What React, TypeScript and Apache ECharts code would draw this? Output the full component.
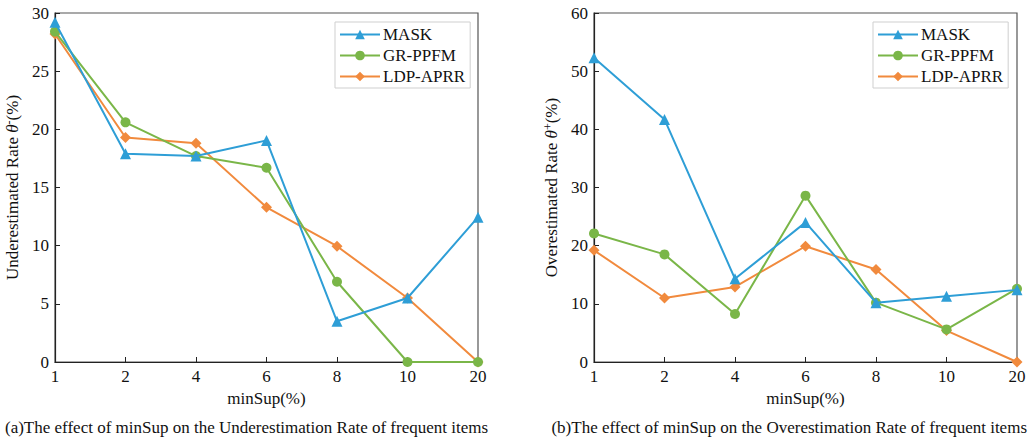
import React, { useEffect, useRef } from "react";
import * as echarts from "echarts";

const categories = ["1", "2", "4", "6", "8", "10", "20"];
const seriesNames = ["MASK", "GR-PPFM", "LDP-APRR"];
const colors = ["#2E9ED6", "#7AB648", "#F18A3D"];
const symbols = ["triangle", "circle", "diamond"];

// (a) Underestimation rate
const underMASK = [29.2, 17.9, 17.7, 19.05, 3.5, 5.5, 12.45];
const underGR = [28.4, 20.6, 17.7, 16.7, 6.9, 0, 0];
const underLDP = [28.2, 19.3, 18.8, 13.3, 9.95, 5.5, 0];

// (b) Overestimation rate
const overMASK = [52.3, 41.7, 14.3, 24.0, 10.2, 11.3, 12.4];
const overGR = [22.1, 18.5, 8.25, 28.6, 10.2, 5.6, 12.6];
const overLDP = [19.2, 11.0, 12.9, 19.9, 15.9, 5.4, 0];

const captionA = "(a)The effect of minSup on the Underestimation Rate of frequent items";
const captionB = "(b)The effect of minSup on the Overestimation Rate of frequent items";

const FONT = "'Liberation Serif', 'Times New Roman', serif";

export default function App() {
  const ref = useRef<HTMLDivElement>(null);
  useEffect(() => {
    if (!ref.current) return;
    const chart = echarts.init(ref.current, null, { renderer: "svg" });
    const grids = [
      { left: 55, top: 13, width: 423, height: 349 },
      { left: 594, top: 13, width: 423, height: 349 },
    ];
    const xAxis = grids.map((_, i) => ({
      type: "category",
      gridIndex: i,
      data: categories,
      boundaryGap: false,
      name: "minSup(%)",
      nameLocation: "middle",
      nameGap: 25,
      nameTextStyle: { fontFamily: FONT, fontSize: 17, color: "#111" },
      axisLine: { lineStyle: { color: "#222", width: 1.2 } },
      axisTick: { inside: true, length: 5, alignWithLabel: true, lineStyle: { color: "#222" } },
      axisLabel: { fontFamily: FONT, fontSize: 17, color: "#111", margin: 6 },
      splitLine: { show: false },
    }));
    const yAxis = [
      {
        type: "value",
        gridIndex: 0,
        min: 0,
        max: 30,
        interval: 5,
        name: "Underestimated Rate {i|θ}{s|-}(%)",
      },
      {
        type: "value",
        gridIndex: 1,
        min: 0,
        max: 60,
        interval: 10,
        name: "Overestimated Rate {i|θ}{s|+}(%)",
      },
    ].map((a) => ({
      ...a,
      nameLocation: "middle",
      nameGap: 33,
      nameTextStyle: {
        fontFamily: FONT,
        fontSize: 17,
        color: "#111",
        rich: {
          i: { fontFamily: FONT, fontSize: 17, fontStyle: "italic", color: "#111" },
          s: { fontFamily: FONT, fontSize: 12, color: "#111", verticalAlign: "top", padding: [0, 0, 7, 0] },
        },
      },
      axisLine: { show: true, lineStyle: { color: "#222", width: 1.2 } },
      axisTick: { show: true, inside: true, length: 5, lineStyle: { color: "#222" } },
      axisLabel: { fontFamily: FONT, fontSize: 17, color: "#111", margin: 6 },
      splitLine: { show: false },
    }));
    const dataSets = [
      [underMASK, underGR, underLDP],
      [overMASK, overGR, overLDP],
    ];
    const series: any[] = [];
    dataSets.forEach((sets, gi) => {
      sets.forEach((d, si) => {
        series.push({
          type: "line",
          name: seriesNames[si],
          xAxisIndex: gi,
          yAxisIndex: gi,
          data: d,
          symbol: symbols[si],
          symbolSize: si === 1 ? 10 : 11,
          lineStyle: { color: colors[si], width: 2 },
          itemStyle: { color: colors[si] },
          z: 5 - si,
        });
      });
    });
    const legendBase = {
      orient: "vertical",
      data: seriesNames,
      itemWidth: 40,
      itemHeight: 12,
      itemGap: 4,
      borderColor: "#cfcfcf",
      borderWidth: 1,
      padding: [4, 5, 3, 4],
      textStyle: { fontFamily: FONT, fontSize: 17, color: "#111", padding: [0, 0, 0, -2] },
      selectedMode: false,
    };
    chart.setOption({
      animation: false,
      backgroundColor: "#fff",
      grid: grids.map((g) => ({ ...g, show: true, borderColor: "#555", borderWidth: 1.2, backgroundColor: "transparent" })),
      xAxis,
      yAxis,
      legend: [
        { ...legendBase, left: 335, top: 22 },
        { ...legendBase, left: 873, top: 22 },
      ],
      series,
      graphic: [
        {
          type: "text",
          left: 5,
          top: 419,
          style: { text: captionA, fontFamily: FONT, fontSize: 17, fill: "#111" },
        },
        {
          type: "text",
          right: 3,
          top: 419,
          style: { text: captionB, fontFamily: FONT, fontSize: 17, fill: "#111" },
        },
      ],
    });
    return () => chart.dispose();
  }, []);
  return <div ref={ref} style={{ width: 1030, height: 440, position: "absolute", left: 0, top: 0 }} />;
}
